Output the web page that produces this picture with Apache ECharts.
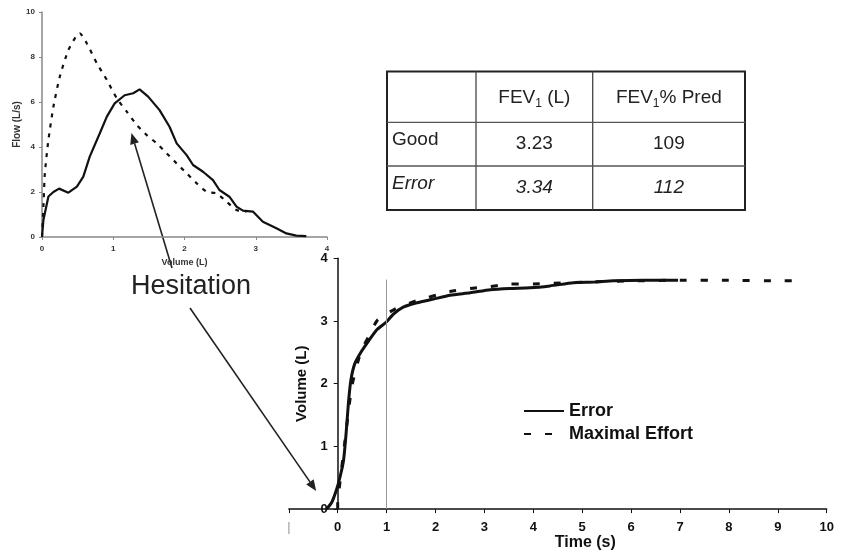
<!DOCTYPE html>
<html>
<head>
<meta charset="utf-8">
<script src="https://cdn.jsdelivr.net/npm/echarts@6/dist/echarts.min.js"></script>
<style>
  html, body { margin: 0; padding: 0; background: #fff; }
  #main { width: 847px; height: 552px; }
</style>
</head>
<body>
<div id="main"></div>
<script>
// flow-volume inset (top left): volume (L) vs flow (L/s)
var fvErrorVol  = [0, 0.02, 0.09, 0.16, 0.24, 0.37, 0.49, 0.58, 0.67, 0.81, 0.91, 1.02, 1.16, 1.28, 1.37, 1.49, 1.65, 1.79, 1.89, 2.03, 2.12, 2.26, 2.40, 2.49, 2.63, 2.73, 2.82, 2.96, 3.10, 3.29, 3.43, 3.57, 3.71];
var fvErrorFlow = [0, 0.76, 1.8, 2.0, 2.15, 1.97, 2.24, 2.68, 3.57, 4.6, 5.35, 5.94, 6.3, 6.39, 6.56, 6.24, 5.64, 4.9, 4.16, 3.64, 3.2, 2.9, 2.53, 2.09, 1.79, 1.35, 1.17, 1.13, 0.68, 0.39, 0.16, 0.06, 0.04];
var fvMaxVol    = [0, 0.02, 0.04, 0.09, 0.16, 0.25, 0.37, 0.49, 0.53, 0.63, 0.77, 0.91, 1.05, 1.19, 1.33, 1.47, 1.61, 1.75, 1.89, 2.03, 2.17, 2.31, 2.45, 2.59, 2.73, 2.87];
var fvMaxFlow   = [0, 1.35, 2.83, 4.31, 5.79, 7.13, 8.31, 8.98, 9.05, 8.6, 7.72, 6.98, 6.16, 5.57, 4.98, 4.53, 4.16, 3.72, 3.27, 2.83, 2.39, 2.01, 1.94, 1.57, 1.2, 1.13];

// volume-time curve (main chart): time (s) vs volume (L)
var vtErrorTime = [-0.23, -0.12, -0.02, 0.05, 0.12, 0.17, 0.22, 0.27, 0.35, 0.49, 0.63, 0.8, 0.99, 1.14, 1.34, 1.62, 1.96, 2.3, 2.71, 3.12, 3.52, 3.93, 4.34, 4.82, 5.23, 5.64, 6.25, 6.96];
var vtErrorVol  = [0, 0.11, 0.32, 0.52, 0.78, 1.19, 1.7, 2.06, 2.32, 2.52, 2.68, 2.86, 2.98, 3.11, 3.22, 3.29, 3.35, 3.41, 3.45, 3.5, 3.52, 3.53, 3.56, 3.61, 3.62, 3.64, 3.65, 3.65];
var vtMaxTime   = [0, 0, 0.03, 0.15, 0.29, 0.47, 0.63, 0.81, 1.17, 1.6, 2.3, 2.71, 3.12, 3.52, 4.0, 4.41, 5.0, 6.0, 7.0, 8.0, 9.0, 9.5];
var vtMaxVol    = [0, 0.1, 0.32, 1.1, 1.96, 2.5, 2.75, 3.01, 3.19, 3.32, 3.47, 3.52, 3.55, 3.59, 3.59, 3.6, 3.62, 3.64, 3.65, 3.65, 3.64, 3.64];

// 1-second marker on the volume-time chart
var oneSecMark = [[1, 0], [1, 3.66]];

// arrow tips, in data coords of [inset, main chart]
var hesitationTips = [[1.255, 4.62], [-0.44, 0.29]];

// summary table
var tableHeader = ['', '{m|FEV}{s|1}{m| (L)}', '{m|FEV}{s|1}{m|% Pred}'];
var tableRows = [
  ['Good', '3.23', '109'],
  ['Error', '3.34', '112']
];

var FONT = '"Liberation Sans", Arial, Helvetica, sans-serif';

function pairs(xs, ys) {
  return xs.map(function (x, i) { return [x, ys[i]]; });
}

var chart = echarts.init(document.getElementById('main'));

var smallAxisLabel = { fontSize: 8, fontWeight: 'bold', color: '#333', fontFamily: FONT };
var bigAxisLabel = { fontSize: 13, fontWeight: 'bold', color: '#111', fontFamily: FONT };

var option = {
  backgroundColor: '#fff',
  animation: false,
  grid: [
    { left: 42, top: 12, width: 285, height: 225 },        // flow-volume inset
    { left: 288.8, top: 258.3, width: 537.9, height: 259.5 } // volume-time
  ],
  legend: {
    data: ['Error', 'Maximal Effort'],
    orient: 'vertical',
    left: 518,
    top: 397,
    itemWidth: 40,
    itemHeight: 14,
    itemGap: 5,
    itemStyle: { opacity: 0 },
    textStyle: { fontSize: 18, fontWeight: 'bold', color: '#111', fontFamily: FONT }
  },
  xAxis: [
    {
      gridIndex: 0, type: 'value', min: 0, max: 4, interval: 1,
      name: 'Volume (L)', nameLocation: 'middle', nameGap: 21,
      nameTextStyle: { fontSize: 9, fontWeight: 'bold', color: '#333', fontFamily: FONT },
      axisLine: { lineStyle: { color: '#888', width: 1.5 } },
      axisTick: { length: 3, lineStyle: { color: '#888' } },
      axisLabel: Object.assign({ margin: 8 }, smallAxisLabel),
      splitLine: { show: false }
    },
    {
      gridIndex: 1, type: 'value', min: -1, max: 10, interval: 1,
      name: 'Time (s)', nameLocation: 'middle', nameGap: 19,
      nameTextStyle: { fontSize: 16, fontWeight: 'bold', color: '#111', fontFamily: FONT, padding: [0, 0, 0, 55] },
      axisLine: { onZero: true, lineStyle: { color: '#111', width: 1.5 } },
      axisTick: { length: 4, lineStyle: { color: '#111' } },
      axisLabel: Object.assign({}, bigAxisLabel, {
        margin: 12,
        formatter: function (v) { return v === -1 ? '|' : String(v); },
        color: function (v) { return Number(v) === -1 ? '#bbb' : '#111'; }
      }),
      splitLine: { show: false }
    }
  ],
  yAxis: [
    {
      gridIndex: 0, type: 'value', min: 0, max: 10, interval: 2,
      name: 'Flow (L/s)', nameLocation: 'middle', nameGap: 20,
      nameTextStyle: { fontSize: 10, fontWeight: 'bold', color: '#333', fontFamily: FONT },
      axisLine: { show: true, lineStyle: { color: '#888', width: 1.5 } },
      axisTick: { show: true, length: 3, lineStyle: { color: '#888' } },
      axisLabel: Object.assign({ margin: 7 }, smallAxisLabel),
      splitLine: { show: false }
    },
    {
      // the y axis sits at t = 0, one second in from the grid's left edge
      gridIndex: 1, type: 'value', min: 0, max: 4, interval: 1, offset: -48.9,
      name: 'Volume (L)', nameLocation: 'middle', nameGap: 22,
      nameTextStyle: { fontSize: 15, fontWeight: 'bold', color: '#111', fontFamily: FONT },
      axisLine: { show: true, onZero: false, lineStyle: { color: '#111', width: 1.5 } },
      axisTick: { show: true, length: 4, lineStyle: { color: '#111' } },
      axisLabel: Object.assign({ margin: 10 }, bigAxisLabel),
      splitLine: { show: false }
    }
  ],
  series: [
    {
      name: 'Error (flow)', type: 'line', xAxisIndex: 0, yAxisIndex: 0,
      data: pairs(fvErrorVol, fvErrorFlow), symbol: 'none',
      lineStyle: { color: '#111', width: 2.2 }
    },
    {
      name: 'Maximal Effort (flow)', type: 'line', xAxisIndex: 0, yAxisIndex: 0,
      data: pairs(fvMaxVol, fvMaxFlow), symbol: 'none', smooth: 0.2,
      lineStyle: { color: '#111', width: 2.2, type: [4, 6] }
    },
    {
      name: 'Maximal Effort', type: 'line', xAxisIndex: 1, yAxisIndex: 1,
      data: pairs(vtMaxTime, vtMaxVol), symbol: 'none', smooth: 0.2,
      itemStyle: { color: '#111' },
      lineStyle: { color: '#111', width: 3, type: [7, 14] }
    },
    {
      name: 'Error', type: 'line', xAxisIndex: 1, yAxisIndex: 1,
      data: pairs(vtErrorTime, vtErrorVol), symbol: 'none', smooth: 0.2,
      itemStyle: { color: '#111' },
      lineStyle: { color: '#111', width: 3 },
      markLine: {
        silent: true, symbol: 'none', label: { show: false },
        lineStyle: { color: '#999', width: 1, type: 'solid' },
        data: [[{ coord: oneSecMark[0] }, { coord: oneSecMark[1] }]]
      }
    }
  ]
};
chart.setOption(option);

// ---- annotations: table, "Hesitation" and its two arrows ----
var colX = [387, 476, 592.7, 745];
var rowY = [71.5, 122.3, 166, 210];
var g = [];

g.push({ type: 'rect', shape: { x: colX[0], y: rowY[0], width: colX[3] - colX[0], height: rowY[3] - rowY[0] },
  style: { fill: '#fff', stroke: '#222', lineWidth: 2 } });
[colX[1], colX[2]].forEach(function (x) {
  g.push({ type: 'line', shape: { x1: x, y1: rowY[0], x2: x, y2: rowY[3] }, style: { stroke: '#444', lineWidth: 1.3 } });
});
[rowY[1], rowY[2]].forEach(function (y) {
  g.push({ type: 'line', shape: { x1: colX[0], y1: y, x2: colX[3], y2: y }, style: { stroke: '#555', lineWidth: 1.3 } });
});

var cellRich = {
  m: { fontSize: 19, fontFamily: FONT, fill: '#222', lineHeight: 24 },
  s: { fontSize: 12, fontFamily: FONT, fill: '#222', lineHeight: 24, verticalAlign: 'bottom', padding: [10, 0, 0, 0] }
};
tableHeader.forEach(function (t, c) {
  if (!t) return;
  g.push({ type: 'text', style: {
    text: t, rich: cellRich, x: (colX[c] + colX[c + 1]) / 2, y: (rowY[0] + rowY[1]) / 2 + 1,
    align: 'center', verticalAlign: 'middle'
  } });
});
tableRows.forEach(function (row, r) {
  var italic = r === 1 ? 'italic' : 'normal';
  var cy = (rowY[r + 1] + rowY[r + 2]) / 2;
  row.forEach(function (t, c) {
    g.push({ type: 'text', style: {
      text: t,
      x: c === 0 ? colX[0] + 5 : (colX[c] + colX[c + 1]) / 2,
      y: c === 0 ? cy - 4 : cy,
      align: c === 0 ? 'left' : 'center', verticalAlign: 'middle',
      fontSize: 19, fontStyle: italic, fontFamily: FONT, fill: '#222'
    } });
  });
});

g.push({ type: 'text', style: {
  text: 'Hesitation', x: 191, y: 287, align: 'center', verticalAlign: 'middle',
  fontSize: 27, fontFamily: FONT, fill: '#222'
} });

function arrow(from, to) {
  var dx = to[0] - from[0], dy = to[1] - from[1];
  var len = Math.sqrt(dx * dx + dy * dy);
  var ux = dx / len, uy = dy / len;
  var L = 11, W = 4.5;
  var bx = to[0] - ux * L, by = to[1] - uy * L;
  return [
    { type: 'line', shape: { x1: from[0], y1: from[1], x2: bx, y2: by }, style: { stroke: '#222', lineWidth: 1.6 } },
    { type: 'polygon', shape: { points: [to, [bx - uy * W, by + ux * W], [bx + uy * W, by - ux * W]] }, style: { fill: '#222' } }
  ];
}
var tip1 = chart.convertToPixel({ xAxisIndex: 0, yAxisIndex: 0 }, hesitationTips[0]);
var tip2 = chart.convertToPixel({ xAxisIndex: 1, yAxisIndex: 1 }, hesitationTips[1]);
g = g.concat(arrow([172, 268], tip1), arrow([190, 308], tip2));

chart.setOption({ graphic: g });
</script>
</body>
</html>
